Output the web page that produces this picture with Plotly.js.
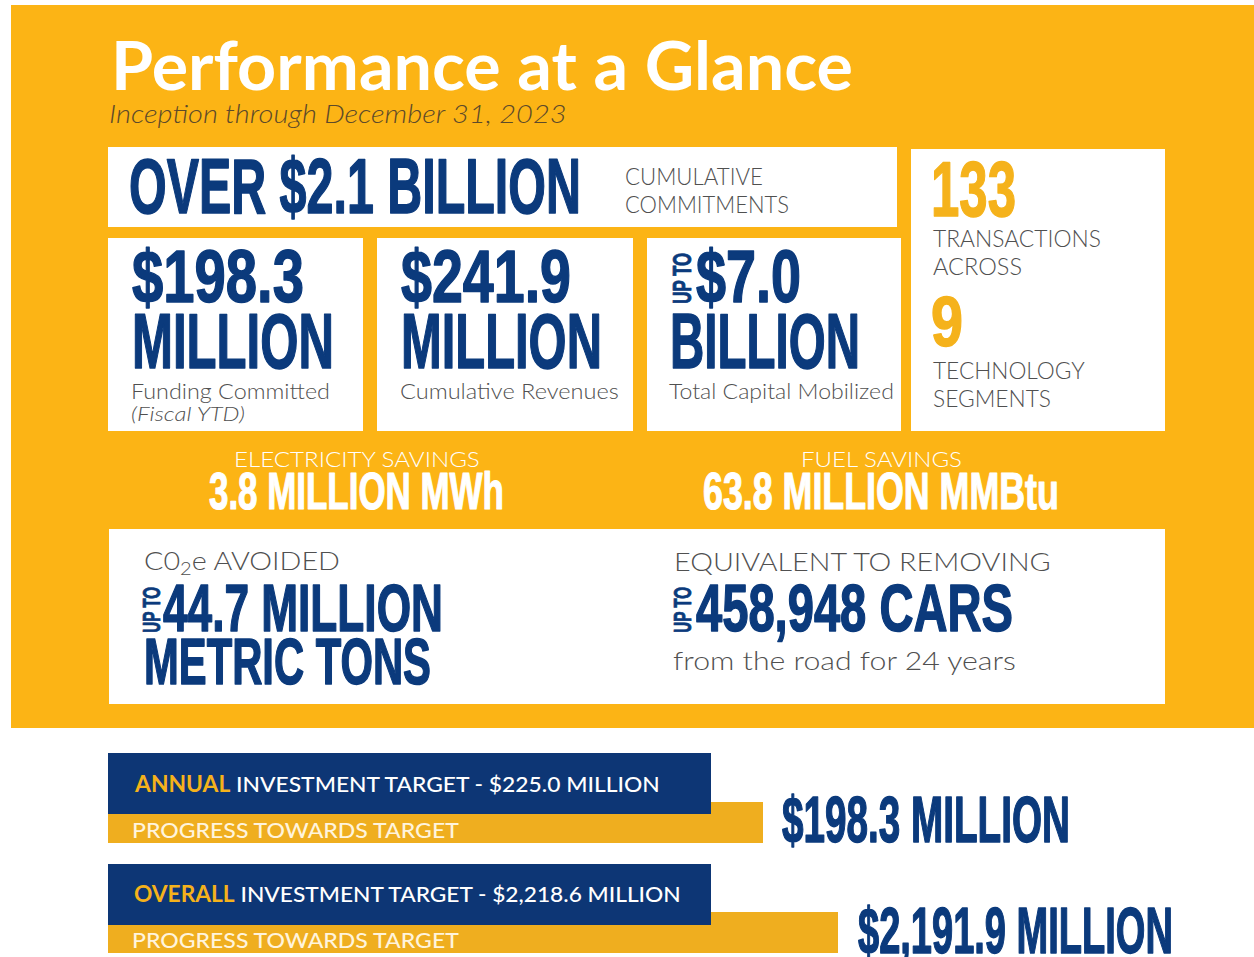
<!DOCTYPE html>
<html>
<head>
<meta charset="utf-8">
<script src="https://cdn.plot.ly/plotly-3.0.1.min.js"></script>
<style>
html,body{margin:0;padding:0;background:#fff;}
#chart{width:1254px;height:957px;}
</style>
</head>
<body>
<div id="chart"></div>
<script>
// ---------------- DATA ----------------
const reportTitle = 'Performance at a Glance';
const reportPeriod = 'Inception through December 31, 2023';
const cumulativeCommitments = 'OVER $2.1 BILLION';
const commitmentsCaption = ['CUMULATIVE', 'COMMITMENTS'];
const kpiValues = ['$198.3', '$241.9', '$7.0'];
const kpiUnits = ['MILLION', 'MILLION', 'BILLION'];
const kpiCaptions = ['Funding Committed', 'Cumulative Revenues', 'Total Capital Mobilized'];
const kpiNotes = ['(Fiscal YTD)', '', ''];
const transactionCount = [133];
const transactionCaption = ['TRANSACTIONS', 'ACROSS'];
const segmentCount = [9];
const segmentCaption = ['TECHNOLOGY', 'SEGMENTS'];
const savingsLabels = ['ELECTRICITY SAVINGS', 'FUEL SAVINGS'];
const savingsValues = ['3.8 MILLION MWh', '63.8 MILLION MMBtu'];
const impactLabels = ['C0<sub>2</sub>e AVOIDED', 'EQUIVALENT TO REMOVING'];
const impactValues = ['44.7 MILLION', '458,948 CARS'];
const impactUnits = ['METRIC TONS', 'from the road for 24 years'];
const upToLabel = 'UP TO';
const targetNames = ['ANNUAL', 'OVERALL'];
const targetAmounts = [225.0, 2218.6];      // $ million
const progressAmounts = [198.3, 2191.9];    // $ million
const progressLabel = 'PROGRESS TOWARDS TARGET';

// ---------------- STYLE ----------------
const YELLOW = '#FCB415';
const BAR_YELLOW = '#EFAE1F';
const NAVY = '#0B3A7C';
const BAR_NAVY = '#0D3675';
const GOLD = '#F5B21B';
const GRAY = '#505050';
const CONDENSED = '"Liberation Sans Narrow", "Liberation Sans", Arial, sans-serif';
const THIN = 'Lato, "Open Sans", sans-serif';

function money(v) {
  return '$' + v.toLocaleString('en-US', {minimumFractionDigits: 1, maximumFractionDigits: 1}) + ' MILLION';
}

function rect(x0, y0, x1, y1, color) {
  return {type: 'rect', xref: 'x', yref: 'y', x0, y0, x1, y1, fillcolor: color, line: {width: 0}, layer: 'below'};
}

const shapes = [
  rect(11, 5, 1254, 728, YELLOW),
  rect(108, 147, 897, 227, '#fff'),
  rect(911, 149, 1165, 431, '#fff'),
  rect(108, 238, 363, 431, '#fff'),
  rect(377, 238, 633, 431, '#fff'),
  rect(647, 238, 901, 431, '#fff'),
  rect(109, 529, 1165, 704, '#fff'),
  rect(108, 802, 763, 843, BAR_YELLOW),
  rect(108, 753, 711, 814, BAR_NAVY),
  rect(108, 912, 838, 953, BAR_YELLOW),
  rect(108, 864, 711, 925, BAR_NAVY)
];

const annotations = [];
const fit = []; // target widths for horizontal fitting

function txt(text, x, y, size, color, family, opts) {
  opts = opts || {};
  annotations.push({
    text, x, y, xref: 'x', yref: 'y', showarrow: false,
    xanchor: opts.xa || 'left', yanchor: 'middle', align: 'left',
    textangle: opts.angle || 0, borderpad: 0,
    font: {size, color, family, weight: opts.weight || 400, style: opts.style || 'normal'}
  });
  fit.push({w: opts.w || 0, xa: opts.xa || 'left', stroke: opts.stroke || 0, color});
}

// header
txt(reportTitle, 110, 64, 66, '#fff', 'Lato, sans-serif', {weight: 700, w: 742});
txt(reportPeriod, 108, 113, 26, '#5C4A2A', THIN, {style: 'italic', weight: 300, w: 458});

// cumulative commitments
txt(cumulativeCommitments, 128, 186, 77, NAVY, CONDENSED, {weight: 700, w: 452, stroke: 1.5});
txt(commitmentsCaption[0], 624, 176, 23, GRAY, THIN, {weight: 300, w: 138});
txt(commitmentsCaption[1], 624, 204, 23, GRAY, THIN, {weight: 300, w: 164});

// transactions / segments
txt(String(transactionCount[0]), 930, 189, 78, GOLD, CONDENSED, {weight: 700, w: 85, stroke: 1.5});
txt(transactionCaption[0], 932, 238, 23, GRAY, THIN, {weight: 300, w: 168});
txt(transactionCaption[1], 932, 266, 23, GRAY, THIN, {weight: 300, w: 89});
txt(String(segmentCount[0]), 930, 322, 70, GOLD, CONDENSED, {weight: 700, w: 32, stroke: 1.5});
txt(segmentCaption[0], 932, 370, 23, GRAY, THIN, {weight: 300, w: 152});
txt(segmentCaption[1], 932, 398, 23, GRAY, THIN, {weight: 300, w: 118});

// KPI boxes
const kpiLeft = [131, 400, 669];
const kpiValueLeft = [131, 400, 695];
const kpiValueW = [172, 170, 105];
const kpiUnitW = [202, 201, 190];
const kpiCapW = [199, 219, 225];
for (let i = 0; i < kpiValues.length; i++) {
  txt(kpiValues[i], kpiValueLeft[i], 276, 74, NAVY, CONDENSED, {weight: 700, w: kpiValueW[i], stroke: 1.5});
  txt(kpiUnits[i], kpiLeft[i], 341, 77, NAVY, CONDENSED, {weight: 700, w: kpiUnitW[i], stroke: 1.5});
  txt(kpiCaptions[i], kpiLeft[i] - 1, 390, 22, GRAY, THIN, {weight: 300, w: kpiCapW[i]});
  if (kpiNotes[i]) txt(kpiNotes[i], kpiLeft[i] - 1, 413, 20, GRAY, THIN, {weight: 300, style: 'italic', w: 114});
}
txt(upToLabel, 682, 278, 25, NAVY, CONDENSED, {weight: 700, angle: -90, xa: 'center', w: 51, stroke: 0.8});

// savings
const savLabelLeft = [233, 800], savLabelW = [246, 161];
const savValueLeft = [208, 702], savValueW = [295, 356];
for (let i = 0; i < savingsLabels.length; i++) {
  txt(savingsLabels[i], savLabelLeft[i], 458, 22, '#fff', THIN, {weight: 300, w: savLabelW[i]});
  txt(savingsValues[i], savValueLeft[i], 491, 52, '#fff', CONDENSED, {weight: 700, w: savValueW[i], stroke: 1.2});
}

// impact
txt(impactLabels[0], 143, 561, 26, GRAY, THIN, {weight: 300, w: 196});
txt(impactLabels[1], 673, 561, 26, GRAY, THIN, {weight: 300, w: 377});
txt(impactValues[0], 162, 608, 66, NAVY, CONDENSED, {weight: 700, w: 280, stroke: 1.5});
txt(impactValues[1], 695, 608, 66, NAVY, CONDENSED, {weight: 700, w: 317, stroke: 1.5});
txt(impactUnits[0], 143, 662, 64, NAVY, CONDENSED, {weight: 700, w: 287, stroke: 1.5});
txt(impactUnits[1], 672, 660, 26, GRAY, THIN, {weight: 300, w: 343});
txt(upToLabel, 151, 610, 24, NAVY, CONDENSED, {weight: 700, angle: -90, xa: 'center', w: 46, stroke: 0.8});
txt(upToLabel, 682, 610, 24, NAVY, CONDENSED, {weight: 700, angle: -90, xa: 'center', w: 46, stroke: 0.8});

// targets
const targetY = [783, 893], progY = [829, 939];
const targetW = [526, 547];
const valueLeft = [781, 857], valueY = [820, 931], valueW = [288, 315];
for (let i = 0; i < targetNames.length; i++) {
  txt('<span style="color:' + GOLD + ';font-weight:bold">' + targetNames[i] + '</span> INVESTMENT TARGET - ' + money(targetAmounts[i]),
      133, targetY[i], 22, '#fff', 'Lato, sans-serif', {weight: 500, w: targetW[i]});
  txt(progressLabel, 131, progY[i], 22, '#FFF4DC', 'Lato, sans-serif', {weight: 500, w: 327});
  txt(money(progressAmounts[i]), valueLeft[i], valueY[i], 64, NAVY, CONDENSED, {weight: 700, w: valueW[i], stroke: 1.5});
}

const layout = {
  width: 1254, height: 957,
  margin: {l: 0, r: 0, t: 0, b: 0, pad: 0},
  paper_bgcolor: '#fff', plot_bgcolor: '#fff',
  showlegend: false,
  xaxis: {range: [0, 1254], visible: false, fixedrange: true},
  yaxis: {range: [957, 0], visible: false, fixedrange: true},
  shapes, annotations
};

const gd = document.getElementById('chart');
Plotly.newPlot(gd, [{x: [], y: [], type: 'scatter', mode: 'markers', hoverinfo: 'skip'}], layout,
  {staticPlot: true, displayModeBar: false}).then(() => {
  fit.forEach((s, i) => {
    if (!s.w) return;
    const g = gd.querySelector('.annotation[data-index="' + i + '"]');
    const t = g && g.querySelector('text.annotation-text');
    if (!t) return;
    const bb = t.getBBox();
    if (!bb.width) return;
    const sx = s.w / bb.width;
    const ax = s.xa === 'center' ? bb.x + bb.width / 2 : bb.x;
    t.setAttribute('transform', 'translate(' + ax + ',0) scale(' + sx + ',1) translate(' + (-ax) + ',0)');
    if (s.stroke) {
      t.style.stroke = s.color;
      t.style.strokeWidth = s.stroke + 'px';
      t.style.strokeLinejoin = 'round';
    }
  });
});
</script>
</body>
</html>
